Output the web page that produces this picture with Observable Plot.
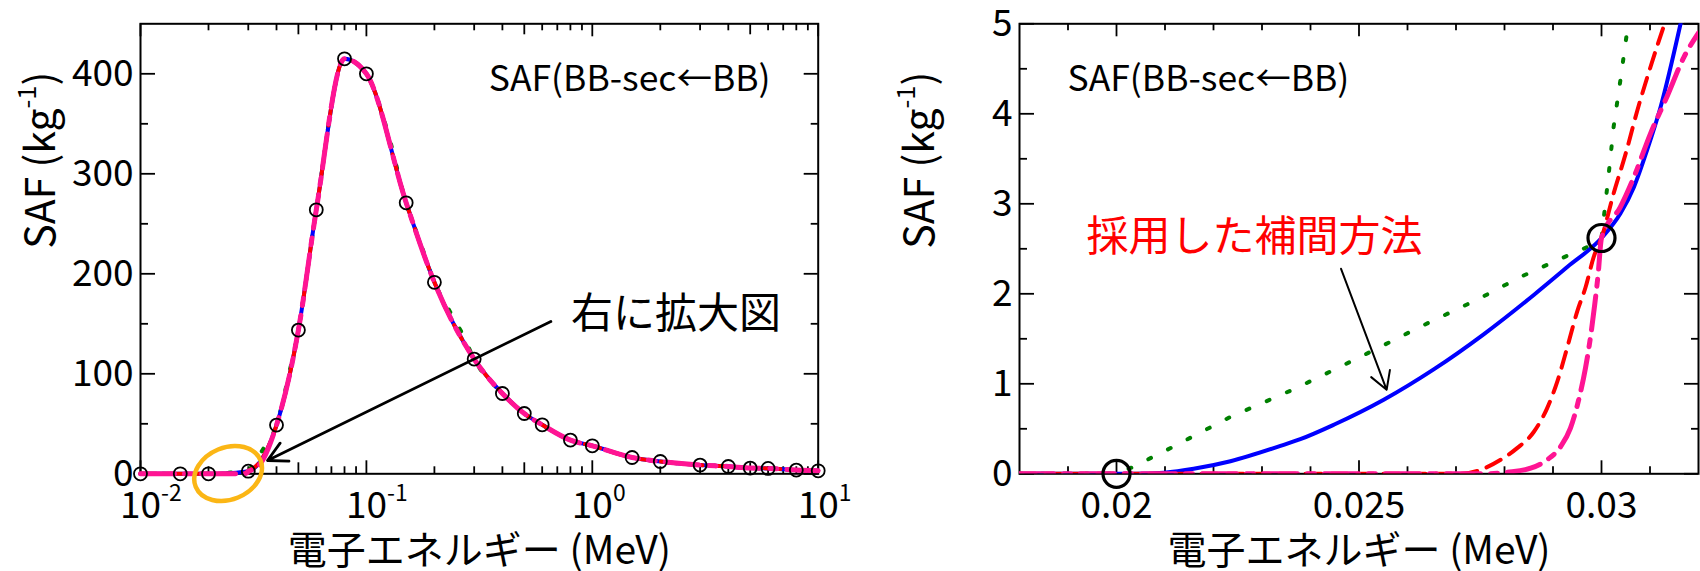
<!DOCTYPE html>
<html><head><meta charset="utf-8">
<script src="https://cdn.jsdelivr.net/npm/d3@7"></script>
<script src="https://cdn.jsdelivr.net/npm/@observablehq/plot@0.6"></script>
<style>
html,body{margin:0;padding:0;background:#fff;}
#wrap{display:flex;width:1700px;height:571px;overflow:hidden;}
#wrap svg{display:block;overflow:visible;flex:none;}
</style></head><body><div id="wrap"></div>
<script>
// ---------------- data ----------------
// Monte-Carlo SAF points (circles)
const energies = [0.01, 0.015, 0.02, 0.03, 0.04, 0.05, 0.06, 0.08, 0.1, 0.15, 0.2, 0.3, 0.4, 0.5, 0.6, 0.8, 1, 1.5, 2, 3, 4, 5, 6, 8, 10];
const safMC    = [0, 0, 0, 2.62, 48.7, 143.7, 264, 415, 400, 271, 191.5, 114.7, 80.3, 60.3, 49, 33.7, 28, 16.3, 12.3, 8.7, 7.3, 5.7, 5.4, 3.7, 3];

// interpolation curves around the threshold
const blueE  = [0.018, 0.0204, 0.02098, 0.02159, 0.02235, 0.02338, 0.02379, 0.02448, 0.02551, 0.02654, 0.02757, 0.02861, 0.0293, 0.03, 0.03039, 0.03067, 0.03094, 0.03122, 0.03163];
const blueV  = [0, 0, 0.013, 0.056, 0.14, 0.31, 0.385, 0.545, 0.823, 1.16, 1.55, 1.99, 2.3, 2.62, 2.892, 3.188, 3.596, 4.078, 5.0];
const greenE = [0.018, 0.02, 0.02033, 0.02122, 0.02234, 0.02368, 0.02502, 0.02625, 0.02748, 0.02833, 0.02916, 0.02971, 0.03, 0.03015, 0.03025, 0.03039, 0.03055];
const greenV = [0, 0, 0.073, 0.315, 0.63, 0.945, 1.297, 1.63, 1.947, 2.187, 2.391, 2.52, 2.62, 3.337, 3.855, 4.375, 5.0];
const redE   = [0.018, 0.02709, 0.02751, 0.02792, 0.02826, 0.02861, 0.02888, 0.02909, 0.02929, 0.0295, 0.02967, 0.02984, 0.03, 0.03025, 0.0305, 0.03074, 0.03101, 0.0313];
const redV   = [0, 0, 0.045, 0.156, 0.285, 0.47, 0.73, 1.027, 1.397, 1.805, 2.07, 2.41, 2.62, 3.115, 3.56, 4.04, 4.52, 5.0];
const pinkE  = [0.018, 0.02764, 0.02806, 0.02854, 0.02888, 0.02916, 0.02936, 0.02953, 0.02967, 0.02977, 0.02986, 0.02993, 0.03, 0.03039, 0.03067, 0.03101, 0.03135, 0.0317, 0.032];
const pinkV  = [0, 0, 0.018, 0.062, 0.156, 0.304, 0.507, 0.823, 1.175, 1.508, 1.88, 2.214, 2.62, 2.966, 3.3, 3.78, 4.19, 4.63, 4.9];
// extra points where the linear (green) curve shows beside the others in the full view
const greenWideE = [0.0358, 0.0425, 0.0447, 0.122, 0.174, 0.236, 0.266];
const greenWideV = [29, 71, 93, 348, 230, 161, 140];

// axis ticks
const lxMajor = [0.01, 0.1, 1, 10];
const lxMid   = [0.05, 0.5, 5];
const lxMinor = [0.02,0.03,0.04,0.06,0.07,0.08,0.09, 0.2,0.3,0.4,0.6,0.7,0.8,0.9, 2,3,4,6,7,8,9];
const lyMajor = [0, 100, 200, 300, 400];
const lyMinor = [50, 150, 250, 350];
const rxMajor = [0.02, 0.025, 0.03];
const rxMinor = [0.019, 0.021, 0.022, 0.023, 0.024, 0.026, 0.027, 0.028, 0.029, 0.031];
const ryMajor = [0, 1, 2, 3, 4, 5];
const ryMinor = [0.5, 1.5, 2.5, 3.5, 4.5];

// texts
const xTitle = "電子エネルギー (MeV)";
const yTitle = "SAF (kg^{-1})";
const boxTitle = "SAF(BB-sec←BB)";
const noteLeft = "右に拡大図";
const noteRight = "採用した補間方法";

// annotation anchors (data units)
const leftTitleAt  = {x: 0.348, y: 394};
const rightTitleAt = {x: 0.01899, y: 4.382};
const leftNoteAt   = {x: 0.804, y: 159.3};
const rightNoteAt  = {x: 0.019381, y: 2.623};
const zoomSpot     = {x: 0.02442, y: 0.3};
const leftArrow    = {x1: 0.6555, y1: 152.3, x2: 0.0365, y2: 13.3};
const rightArrow   = {x1: 0.02463, y1: 2.278, x2: 0.02557, y2: 0.933};

// ---------------- helpers ----------------
const FONT = "'Noto Sans CJK JP', 'Noto Sans', sans-serif";
const C = {blue: "#0000ff", green: "#008000", red: "#ff0000", pink: "#ff1493", orange: "#fbb615"};
const zip = (E, V) => E.map((e, i) => ({x: e, y: V[i]}));
function leftSeries(E, V, extraE = [], extraV = []) {
  const lo = Math.min(...E), hi = Math.max(...E);
  const pts = zip(energies, safMC).filter(d => d.x < lo || d.x > hi);
  return pts.concat(zip(E, V), zip(extraE, extraV)).sort((a, b) => a.x - b.x);
}
function ellipseSymbol(a, b, deg) {
  const t = deg * Math.PI / 180, c = Math.cos(t), s = Math.sin(t), k = 0.5522847498;
  const P = (x, y) => [x * c - y * s, x * s + y * c];
  const raw = [[a,0],[a,k*b],[k*a,b],[0,b],[-k*a,b],[-a,k*b],[-a,0],[-a,-k*b],[-k*a,-b],[0,-b],[k*a,-b],[a,-k*b],[a,0]];
  return {draw(ctx) {
    const q = raw.map(p => P(p[0], p[1]));
    ctx.moveTo(q[0][0], q[0][1]);
    for (let i = 1; i < q.length; i += 3) ctx.bezierCurveTo(q[i][0], q[i][1], q[i+1][0], q[i+1][1], q[i+2][0], q[i+2][1]);
    ctx.closePath();
  }};
}
const styles = {
  blue:  {stroke: C.blue, strokeWidth: 4},
  green: {stroke: C.green, strokeWidth: 4, strokeDasharray: "3,19", strokeLinecap: "round"},
  red:   {stroke: C.red, strokeWidth: 4, strokeDasharray: "16,10"},
  pink:  {stroke: C.pink, strokeWidth: 5, strokeDasharray: "34,10,7,10"}
};
function ticks(innerW, innerH, xs, ys) {
  const m = [];
  for (const [vals, len] of xs) {
    m.push(Plot.tickX(vals, {x: d => d, insetTop: innerH - len, stroke: "black", strokeWidth: 1.8}));
    m.push(Plot.tickX(vals, {x: d => d, insetBottom: innerH - len, stroke: "black", strokeWidth: 1.8}));
  }
  for (const [vals, len] of ys) {
    m.push(Plot.tickY(vals, {y: d => d, insetRight: innerW - len, stroke: "black", strokeWidth: 1.8}));
    m.push(Plot.tickY(vals, {y: d => d, insetLeft: innerW - len + 1, stroke: "black", strokeWidth: 1.8}));
  }
  return m;
}
function titles() {
  return [
    Plot.text([xTitle], {frameAnchor: "bottom", dy: 90.5, lineAnchor: "bottom", fontSize: 39}),
    Plot.text([yTitle], {frameAnchor: "left", rotate: -90, dx: -86, lineAnchor: "bottom", fontSize: 41})
  ];
}

// ---------------- left panel ----------------
const LW = 850, H = 571, MT = 23.3, MB = 97.7;
const lML = 140, lMR = 32.3;
const left = Plot.plot({
  width: LW, height: H, marginLeft: lML, marginRight: lMR, marginTop: MT, marginBottom: MB,
  style: {fontFamily: FONT, fontSize: "37px", color: "#000", background: "transparent", overflow: "visible"},
  x: {type: "log", domain: [0.01, 10], axis: null},
  y: {domain: [0, 450], axis: null},
  marks: [
    Plot.frame({stroke: "black", strokeWidth: 2}),
    ...ticks(LW - lML - lMR, H - MT - MB, [[lxMajor, 13], [lxMid, 11], [lxMinor, 7]], [[lyMajor, 15], [lyMinor, 8]]),
    Plot.axisX({anchor: "bottom", ticks: lxMajor, tickSize: 0, tickPadding: 18, fontSize: 37, label: null,
                tickFormat: d => `10^{${Math.round(Math.log10(d))}}`}),
    Plot.axisY({anchor: "left", ticks: lyMajor, tickSize: 0, tickPadding: 7, fontSize: 37, label: null, tickFormat: d => String(d)}),
    ...titles(),
    Plot.line(leftSeries(greenE, greenV, greenWideE, greenWideV), {x: "x", y: "y", curve: "monotone-x", ...styles.green}),
    Plot.line(leftSeries(blueE, blueV), {x: "x", y: "y", curve: "monotone-x", ...styles.blue}),
    Plot.line(leftSeries(redE, redV), {x: "x", y: "y", curve: "monotone-x", ...styles.red}),
    Plot.line(leftSeries(pinkE, pinkV), {x: "x", y: "y", curve: "monotone-x", ...styles.pink}),
    Plot.dot(zip(energies, safMC), {x: "x", y: "y", r: 6.5, stroke: "black", strokeWidth: 1.8, fill: "none"}),
    Plot.dot([zoomSpot], {x: "x", y: "y", r: 10, symbol: ellipseSymbol(35, 26, -22.5), stroke: C.orange, strokeWidth: 4.5, fill: "none"}),
    Plot.arrow([leftArrow], {x1: "x1", y1: "y1", x2: "x2", y2: "y2", stroke: "black", strokeWidth: 2.8, headLength: 11.5, headAngle: 56}),
    Plot.text([leftTitleAt], {x: "x", y: "y", text: () => boxTitle, textAnchor: "start", lineAnchor: "middle", fontSize: 35.5}),
    Plot.text([leftNoteAt], {x: "x", y: "y", text: () => noteLeft, textAnchor: "start", lineAnchor: "middle", fontSize: 42})
  ]
});

// ---------------- right panel ----------------
const rML = 169, rMR = 2;
const right = Plot.plot({
  width: LW, height: H, marginLeft: rML, marginRight: rMR, marginTop: MT, marginBottom: MB,
  style: {fontFamily: FONT, fontSize: "37px", color: "#000", background: "transparent", overflow: "visible"},
  x: {type: "linear", domain: [0.018, 0.032], axis: null},
  y: {domain: [0, 5], axis: null},
  marks: [
    Plot.frame({stroke: "black", strokeWidth: 2}),
    ...ticks(LW - rML - rMR, H - MT - MB, [[rxMajor, 13], [rxMinor, 7]], [[ryMajor, 15], [ryMinor, 8]]),
    Plot.axisX({anchor: "bottom", ticks: rxMajor, tickSize: 0, tickPadding: 18, fontSize: 37, label: null, tickFormat: d => String(d)}),
    Plot.axisY({anchor: "left", ticks: ryMajor, tickSize: 0, tickPadding: 7, fontSize: 37, label: null, tickFormat: d => String(d)}),
    ...titles(),
    Plot.line(zip(greenE, greenV), {x: "x", y: "y", curve: "linear", clip: true, ...styles.green}),
    Plot.line(zip(blueE, blueV), {x: "x", y: "y", curve: "monotone-x", clip: true, ...styles.blue}),
    Plot.line(zip(redE, redV), {x: "x", y: "y", curve: "monotone-x", clip: true, ...styles.red}),
    Plot.line(zip(pinkE, pinkV), {x: "x", y: "y", curve: "monotone-x", clip: true, ...styles.pink}),
    Plot.dot(zip(energies, safMC).filter(d => d.x >= 0.018 && d.x <= 0.032), {x: "x", y: "y", r: 13.5, stroke: "black", strokeWidth: 3.2, fill: "none"}),
    Plot.arrow([rightArrow], {x1: "x1", y1: "y1", x2: "x2", y2: "y2", stroke: "black", strokeWidth: 2, headLength: 15, headAngle: 60}),
    Plot.text([rightTitleAt], {x: "x", y: "y", text: () => boxTitle, textAnchor: "start", lineAnchor: "middle", fontSize: 35.5}),
    Plot.text([rightNoteAt], {x: "x", y: "y", text: () => noteRight, textAnchor: "start", lineAnchor: "middle", fontSize: 42, fill: C.red})
  ]
});

const wrap = document.getElementById("wrap");
wrap.appendChild(left);
wrap.appendChild(right);

// superscripts (10^{-2}, kg^{-1})
function supify(svg) {
  const NS = "http://www.w3.org/2000/svg";
  svg.querySelectorAll("text").forEach(t => {
    const m = t.textContent.match(/^(.*?)\^\{(.*?)\}(.*)$/);
    if (!m) return;
    const fs = parseFloat(getComputedStyle(t).fontSize) || 37;
    const raise = fs * 0.45;
    while (t.firstChild) t.removeChild(t.firstChild);
    const b = document.createElementNS(NS, "tspan"); b.textContent = m[1]; t.appendChild(b);
    const p = document.createElementNS(NS, "tspan"); p.textContent = m[2];
    p.setAttribute("font-size", (fs * 0.62).toFixed(1)); p.setAttribute("dy", (-raise).toFixed(1)); t.appendChild(p);
    if (m[3]) { const r = document.createElementNS(NS, "tspan"); r.textContent = m[3]; r.setAttribute("dy", raise.toFixed(1)); t.appendChild(r); }
    if (t.closest('[aria-label="x-axis tick label"]')) {
      const bw = b.getComputedTextLength();
      const x0 = parseFloat(t.getAttribute("x")) || 0;
      t.setAttribute("text-anchor", "start");
      t.setAttribute("x", (x0 - bw / 2).toFixed(1));
    }
  });
}
supify(left); supify(right);
</script></body></html>
